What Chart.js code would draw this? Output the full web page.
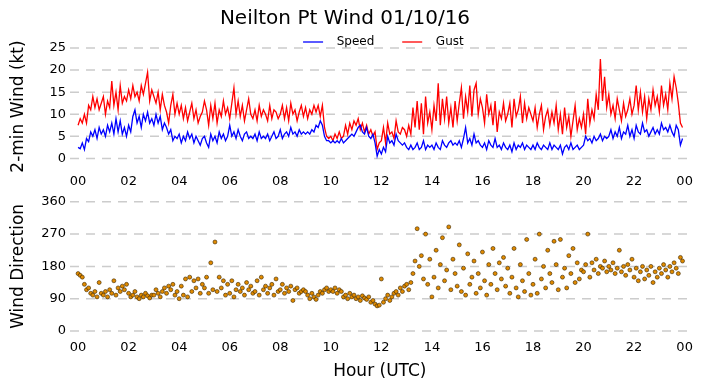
<!DOCTYPE html>
<html>

<head>
    <title>Neilton Pt Wind 01/10/16</title>
    <script src="https://cdn.jsdelivr.net/npm/chart.js"></script>
    <style>
        body {
            margin: 0;
            background: #fff;
        }

        .wrap {
            position: relative;
            width: 702px;
            height: 388px;
        }

        #windChart {
            position: absolute;
            left: 0;
            top: 0;
        }

        #dirChart {
            position: absolute;
            left: 0;
            top: 190px;
        }
    </style>
</head>

<body>
    <div class="wrap">
        <canvas id="windChart" width="702" height="190"></canvas>
        <canvas id="dirChart" width="702" height="198"></canvas>
    </div>

    <script>
        // one sample every 5 minutes, 00:00 -> 23:55 UTC (12 per row = 1 hour)
        const sampleMinutes = 5;

        const speed = [
            2.5, 2.2, 3.5, 2.0, 4.5, 3.8, 6.0, 5.0, 6.5, 4.5, 7.0, 5.5,
            6.5, 5.0, 7.5, 6.0, 8.0, 5.5, 9.0, 6.0, 8.5, 5.5, 7.0, 5.0,
            7.5, 6.0, 9.5, 11.0, 8.0, 9.5, 7.0, 10.0, 8.5, 10.5, 8.0, 9.0,
            7.5, 10.0, 8.0, 9.5, 6.5, 8.0, 7.0, 5.5, 6.5, 4.0, 5.0, 4.5,
            5.5, 3.5, 5.0, 4.0, 6.0, 4.5, 5.5, 3.5, 5.0, 4.0, 3.0, 4.5,
            5.0, 3.5, 2.5, 5.5, 4.0, 5.0, 3.5, 6.0, 4.5, 5.5, 4.0, 5.0,
            7.5, 5.0, 6.0, 4.5, 6.5, 5.0, 4.0, 5.5, 6.0, 4.5, 5.0, 4.5,
            5.5, 4.0, 6.0, 4.5, 5.0, 4.5, 5.5, 4.0, 5.0, 6.0, 4.5, 5.0,
            6.5, 4.5, 5.5, 6.0, 5.0, 7.0, 5.5, 6.0, 5.0, 6.5, 5.5, 6.0,
            5.5, 6.0, 5.5, 6.5, 6.0, 7.5, 7.0, 8.5, 7.5, 5.0, 4.0, 4.0,
            3.5, 4.0, 3.5, 4.0, 3.5, 4.5, 3.5, 4.0, 4.5, 5.0, 5.5, 5.0,
            6.0, 7.0, 7.5, 6.0, 5.5, 7.0, 5.0, 4.5, 5.5, 3.5, 0.5, 2.0,
            1.0, 2.5, 1.5, 5.0, 3.5, 4.0, 3.0, 5.5, 4.0, 3.5, 3.0, 3.5,
            2.5, 2.0, 3.0, 2.0, 2.5, 3.5, 2.0, 2.5, 4.0, 2.0, 3.0, 2.5,
            3.0, 2.0, 3.5, 2.5, 2.0, 4.0, 3.0, 2.5, 3.5, 4.0, 3.0, 3.5,
            3.0, 4.0, 2.5, 4.5, 7.0, 3.5, 4.5, 3.0, 5.5, 3.5, 4.0, 3.0,
            2.5, 3.5, 2.0, 4.0, 3.0, 2.5, 4.5, 2.5, 3.0, 2.0, 3.5, 2.5,
            2.0, 3.0, 1.5, 3.5, 2.0, 3.0, 2.5, 3.5, 2.0, 3.0, 2.5, 2.0,
            3.0, 2.0, 3.5, 2.5, 2.0, 3.0, 2.5, 2.0, 3.5, 2.0, 3.0, 2.5,
            2.0, 3.0, 1.0, 2.5, 3.0, 2.0, 3.5, 2.0, 2.5, 3.0, 2.0, 2.5,
            3.0, 5.0, 4.0, 4.5, 3.5, 5.0, 4.0, 4.5, 5.5, 4.0, 5.0, 4.5,
            5.0, 6.5, 4.5, 6.0, 5.0, 7.0, 4.5, 6.0, 5.5, 7.5, 5.0, 6.5,
            4.5, 7.5, 6.0, 5.5, 8.0, 6.0, 6.5, 5.0, 6.0, 7.0, 5.5, 6.5,
            5.5, 8.0, 6.5, 7.0, 6.0, 7.5, 6.0, 5.0, 7.5, 6.5, 3.0, 4.5
        ];

        const gust = [
            7.5, 9.0, 8.0, 10.0, 8.0, 12.0, 11.0, 14.0, 11.5, 13.5, 11.0, 12.5,
            14.0, 10.0, 13.0, 11.5, 17.5, 12.0, 15.0, 11.0, 16.5, 12.5, 14.0, 13.0,
            15.5, 13.5, 16.5, 14.0, 15.0, 13.0, 16.5, 14.5, 17.0, 19.5, 13.0, 15.5,
            14.0, 12.5, 15.0, 11.0, 14.5, 12.0, 10.5, 8.0, 12.0, 14.5, 10.0, 12.5,
            10.0, 12.0, 9.0, 11.5, 8.5, 10.5, 12.5, 9.0, 11.0, 8.0, 9.5, 10.5,
            13.0, 11.0, 7.5, 12.0, 9.0, 12.5, 8.0, 11.0, 9.5, 13.0, 10.0, 11.5,
            9.0, 12.5, 16.0, 10.0, 13.0, 9.5, 12.0, 8.5, 11.0, 13.5, 10.0, 9.0,
            11.0, 8.5, 12.0, 9.5, 11.0, 10.0, 8.5, 12.0, 9.0, 11.0, 10.5, 9.0,
            10.0, 12.0, 9.0, 11.5, 8.5, 12.5, 10.0, 11.0, 8.5, 10.5, 12.0, 9.5,
            11.5, 9.0, 11.0, 10.0, 12.0, 10.5, 12.0, 9.5, 12.0, 7.0, 5.0, 4.5,
            5.0, 4.0, 5.5, 4.5, 6.0, 4.5, 5.0, 7.5, 5.5, 8.0, 6.5, 8.5,
            7.5, 9.0, 6.5, 8.0, 6.0, 7.5, 5.5, 6.5, 5.0, 6.0, 2.0, 3.5,
            4.0, 7.0, 3.5, 8.0, 5.5, 6.0, 4.5, 8.5, 6.0, 5.5, 7.0, 6.5,
            5.0, 7.5, 5.5, 11.5, 7.0, 13.0, 6.5, 12.5, 5.5, 14.0, 8.0, 10.5,
            6.5, 12.0, 8.5, 17.0, 7.5, 13.5, 9.0, 14.0, 8.0, 11.5, 7.0, 13.0,
            8.5, 12.5, 16.0, 9.0, 14.0, 10.5, 16.5, 9.5, 15.5, 17.0, 10.0, 13.5,
            11.5, 8.0, 14.5, 10.0, 12.0, 7.5, 13.0, 6.0, 10.5, 9.0, 12.5, 8.5,
            10.0, 12.5, 7.0, 13.5, 9.5, 11.0, 14.0, 8.0, 12.5, 9.0, 11.5, 10.0,
            8.5, 11.5, 7.0, 10.0, 12.0, 6.5, 9.5, 11.0, 7.5, 10.5, 8.0, 12.0,
            6.5, 10.0, 5.5, 11.5, 7.0, 9.5, 5.0, 8.5, 12.0, 6.5, 9.0, 7.0,
            10.0, 5.5, 13.5, 8.0, 11.0, 9.0, 14.5, 11.0, 22.5, 13.0, 18.5, 11.5,
            14.5, 10.0, 12.0, 9.0, 13.5, 11.0, 8.5, 12.5, 9.5, 11.0, 13.5, 10.0,
            12.0, 16.5, 11.0, 15.0, 10.5, 14.0, 9.0, 13.5, 11.0, 15.5, 12.0, 14.0,
            10.5, 16.5, 12.0, 14.5, 11.0, 17.0, 13.5, 18.5, 16.0, 12.5, 8.0, 7.0
        ];

        const direction = [
            160, 155, 150, 130, 115, 120, 105, 100, 110, 95, 135, 105,
            100, 110, 95, 115, 105, 140, 100, 120, 110, 125, 115, 130,
            105, 95, 100, 110, 95, 90, 100, 95, 105, 98, 92, 100,
            100, 115, 105, 95, 110, 120, 105, 125, 115, 130, 100, 110,
            90, 125, 100, 145, 95, 150, 110, 140, 120, 145, 105, 130,
            120, 150, 105, 190, 115, 248, 110, 150, 120, 140, 100, 130,
            105, 140, 95, 115, 130, 110, 120, 100, 135, 115, 125, 105,
            110, 140, 100, 150, 115, 125, 105, 120, 130, 100, 145, 110,
            115, 130, 105, 120, 110, 125, 85, 115, 120, 105, 110, 115,
            110, 100, 90, 105, 95, 88, 100, 110, 105, 115, 120, 110,
            115, 110, 120, 105, 115, 110, 95, 100, 90, 105, 95, 100,
            90, 95, 85, 98, 92, 88, 95, 80, 85, 75, 70, 72,
            145, 80, 90, 100, 85, 95, 105, 110, 100, 120, 110, 125,
            130, 115, 135, 160, 195, 285, 180, 210, 145, 270, 130, 200,
            95, 150, 225, 120, 185, 260, 140, 170, 290, 115, 200, 160,
            125, 240, 110, 175, 100, 215, 130, 150, 195, 105, 160, 120,
            220, 140, 100, 185, 130, 230, 160, 115, 190, 145, 205, 125,
            175, 105, 150, 230, 120, 95, 185, 140, 110, 255, 160, 100,
            130, 200, 105, 270, 145, 180, 120, 225, 160, 135, 250, 185,
            115, 255, 150, 175, 120, 210, 160, 230, 135, 190, 145, 170,
            165, 185, 270, 150, 190, 170, 200, 160, 180, 175, 195, 165,
            180, 170, 190, 160, 175, 225, 165, 180, 155, 185, 170, 200,
            150, 175, 140, 165, 180, 145, 170, 155, 180, 135, 165, 150,
            175, 160, 185, 170, 150, 180, 165, 190, 175, 160, 205, 195
        ];

        const hourTicks = [0, 2, 4, 6, 8, 10, 12, 14, 16, 18, 20, 22, 24];
        const hourLabels = ['00', '02', '04', '06', '08', '10', '12', '14', '16', '18', '20', '22', '00'];
        const windTicks = [0, 5, 10, 15, 20, 25];
        const dirTicks = [0, 90, 180, 270, 360];

        const hours = speed.map((_, i) => i * sampleMinutes / 60);
        const toPoints = (vals) => vals.map((v, i) => ({ x: hours[i], y: v }));

        const fontFamily = "'DejaVu Sans', sans-serif";
        const gridColor = '#cccccc';

        // dashed horizontal grid at the y ticks, drawn under the data
        const dashedGrid = {
            id: 'dashedGrid',
            beforeDatasetsDraw(chart) {
                const { ctx, chartArea } = chart;
                const y = chart.scales.y;
                ctx.save();
                ctx.strokeStyle = gridColor;
                ctx.lineWidth = 1.5;
                ctx.setLineDash([9, 7]);
                y.ticks.forEach(t => {
                    const py = y.getPixelForValue(t.value);
                    ctx.beginPath();
                    ctx.moveTo(chartArea.left, py);
                    ctx.lineTo(chartArea.right, py);
                    ctx.stroke();
                });
                ctx.restore();
            }
        };

        function xScale(withTitle) {
            return {
                type: 'linear',
                min: -0.32,
                max: 24.2,
                grid: { display: false, drawTicks: false },
                border: { display: false },
                afterBuildTicks: (s) => { s.ticks = hourTicks.map(v => ({ value: v })); },
                afterFit: (s) => { s.height = withTitle ? 57 : 25; },
                ticks: {
                    autoSkip: false,
                    maxRotation: 0,
                    padding: 9,
                    color: '#000',
                    font: { family: fontFamily, size: 13 },
                    callback: (v, i) => hourLabels[i]
                },
                title: withTitle ? {
                    display: true,
                    text: 'Hour (UTC)',
                    color: '#000',
                    font: { family: fontFamily, size: 17 },
                    padding: { top: 0, bottom: 6 }
                } : { display: false }
            };
        }

        function yScale(min, max, tickVals, label) {
            return {
                min: min,
                max: max,
                grid: { display: false, drawTicks: false },
                border: { display: false },
                afterBuildTicks: (s) => { s.ticks = tickVals.map(v => ({ value: v })); },
                afterFit: (s) => { s.width = 70; },
                ticks: {
                    autoSkip: false,
                    padding: 4,
                    color: '#000',
                    font: { family: fontFamily, size: 13 }
                },
                title: {
                    display: true,
                    text: label,
                    color: '#000',
                    font: { family: fontFamily, size: 17 },
                    padding: { top: 8, bottom: 0 }
                }
            };
        }

        new Chart(document.getElementById('windChart').getContext('2d'), {
            type: 'line',
            data: {
                datasets: [{
                    label: 'Speed',
                    data: toPoints(speed),
                    borderColor: 'blue',
                    backgroundColor: 'blue',
                    borderWidth: 1.3,
                    pointRadius: 0,
                    fill: false
                }, {
                    label: 'Gust',
                    data: toPoints(gust),
                    borderColor: 'red',
                    backgroundColor: 'red',
                    borderWidth: 1.3,
                    pointRadius: 0,
                    fill: false
                }]
            },
            options: {
                responsive: false,
                animation: false,
                devicePixelRatio: 1,
                layout: { padding: { left: 0, right: 12, top: 0, bottom: 0 } },
                plugins: {
                    title: {
                        display: true,
                        text: 'Neilton Pt Wind 01/10/16',
                        color: '#000',
                        font: { family: fontFamily, size: 20, weight: 'normal' },
                        padding: { top: 7, bottom: 0 }
                    },
                    legend: {
                        maxHeight: 17,
                        labels: {
                            usePointStyle: true,
                            pointStyle: 'line',
                            pointStyleWidth: 20,
                            padding: 5,
                            color: '#000',
                            font: { family: fontFamily, size: 12 },
                            // wider gaps like the original legend; a blank lead item
                            // pushes the row over the plot centre instead of the canvas centre
                            generateLabels: (chart) => {
                                const items = Chart.defaults.plugins.legend.labels.generateLabels(chart);
                                items.forEach((it, i) => {
                                    it.text = '  ' + it.text + (i < items.length - 1 ? '      ' : '');
                                });
                                const spacer = {
                                    text: '            ',
                                    fillStyle: 'rgba(0,0,0,0)',
                                    strokeStyle: 'rgba(0,0,0,0)',
                                    lineWidth: 0,
                                    pointStyle: 'line',
                                    hidden: false,
                                    datasetIndex: -1
                                };
                                return [spacer].concat(items);
                            }
                        }
                    },
                    tooltip: { enabled: false }
                },
                scales: {
                    x: xScale(false),
                    y: yScale(-1.5, 25, windTicks, '2-min Wind (kt)')
                }
            },
            plugins: [dashedGrid]
        });

        new Chart(document.getElementById('dirChart').getContext('2d'), {
            type: 'scatter',
            data: {
                datasets: [{
                    label: 'Direction',
                    data: toPoints(direction),
                    backgroundColor: '#e08a00',
                    borderColor: '#3a2600',
                    borderWidth: 0.6,
                    pointRadius: 2.0
                }]
            },
            options: {
                responsive: false,
                animation: false,
                devicePixelRatio: 1,
                layout: { padding: { left: 0, right: 12, top: 10, bottom: 0 } },
                plugins: {
                    legend: { display: false },
                    tooltip: { enabled: false }
                },
                scales: {
                    x: xScale(true),
                    y: yScale(0, 360, dirTicks, 'Wind Direction')
                }
            },
            plugins: [dashedGrid]
        });
    </script>
</body>

</html>
